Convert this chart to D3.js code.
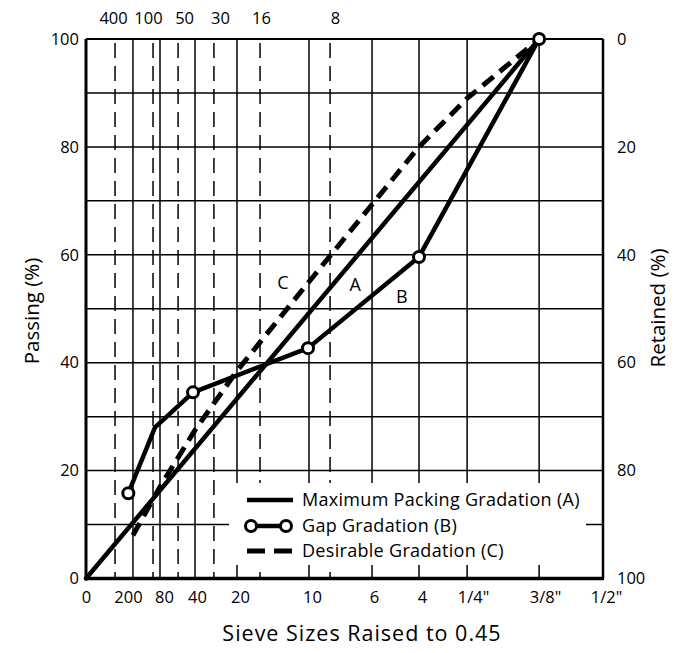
<!DOCTYPE html>
<html>
<head>
<meta charset="utf-8">
<script src="https://cdn.jsdelivr.net/npm/d3@7"></script>
<style>
  body { margin: 0; background: #fff; }
  svg { display: block; font-family: "Open Sans", sans-serif; }
</style>
</head>
<body>
<svg id="chart" width="683" height="653"></svg>
<script>
// Sieve positions, in (sieve size)^0.45 units
const bottomLabels = ['0', '200', '80', '40', '20', '10', '6', '4', '1/4"', '3/8"', '1/2"'];
const bottomPos    = [0, 0.283, 0.446, 0.657, 0.910, 1.344, 1.724, 2.007, 2.297, 2.731, 3.116];
const topLabels    = ['400', '100', '50', '30', '16', '8'];
const topPos       = [0.175, 0.404, 0.555, 0.771, 1.049, 1.471];

const passTicks = [0, 20, 40, 60, 80, 100];
const gridPass  = [10, 20, 30, 40, 50, 60, 70, 80, 90];

// Gradation curves: [position, % passing]
const gradA = [[0, 0], [2.731, 100]];
const gradB = [[0.255, 15.8], [0.416, 28], [0.645, 34.5], [1.338, 42.7], [2.007, 59.6], [2.731, 100]];
const gradBCircles = [true, false, true, true, true, true];
const gradC = [[0.283, 8], [0.446, 17], [0.657, 27.5], [0.910, 38.5], [1.344, 55], [2.007, 80], [2.297, 89], [2.731, 100]];

const curveLabels = [
    { text: 'C', u: 1.187, p: 54.9 },
    { text: 'A', u: 1.622, p: 54.5 },
    { text: 'B', u: 1.903, p: 52.3 }
];
const legendItems = ['Maximum Packing Gradation (A)', 'Gap Gradation (B)', 'Desirable Gradation (C)'];

// ── layout ───────────────────────────────────────────────────────────────────
const L = 86, R = 603, T = 39, B = 578.5;
const FONT = '"Open Sans", sans-serif';
// the printed labels sit a little off their lines in the original
const bottomNudge = [0, -5, 4, 2, 3, 3, 2, 3, 6, 6, 3];
const topNudge    = [-2, -5, 6, 6, 1, 5];

const svg = d3.select('#chart');

const x = d3.scaleLinear().domain([0, 3.116]).range([L, R]);
const y = d3.scaleLinear().domain([0, 100]).range([B, T]);
const yRet = d3.scaleLinear().domain([100, 0]).range([B, T]);

// ── grid ─────────────────────────────────────────────────────────────────────
const grid = svg.append('g').attr('stroke', '#000').attr('stroke-width', 1.5);

grid.selectAll('.gy').data(gridPass).join('line')
    .attr('x1', L).attr('x2', R)
    .attr('y1', d => y(d)).attr('y2', d => y(d));

grid.selectAll('.gx').data(bottomPos.slice(1, -1)).join('line')
    .attr('x1', d => x(d)).attr('x2', d => x(d))
    .attr('y1', T).attr('y2', B);

grid.selectAll('.gxd').data(topPos).join('line')
    .attr('x1', d => x(d)).attr('x2', d => x(d))
    .attr('y1', T).attr('y2', B)
    .attr('stroke-dasharray', '15,8')
    .attr('stroke-dashoffset', -4);

// legend box hides the grid behind it
svg.append('rect')
    .attr('x', 229).attr('y', 483).attr('width', 357).attr('height', 82)
    .attr('fill', '#fff');

// ── frame ────────────────────────────────────────────────────────────────────
const frame = svg.append('g').attr('stroke', '#000').attr('fill', 'none');
frame.append('line').attr('x1', L).attr('x2', R).attr('y1', T).attr('y2', T).attr('stroke-width', 2.2);
frame.append('line').attr('x1', R).attr('x2', R).attr('y1', T).attr('y2', B).attr('stroke-width', 2.5);
frame.append('line').attr('x1', L).attr('x2', L).attr('y1', T).attr('y2', B + 1.5).attr('stroke-width', 3);
frame.append('line').attr('x1', L).attr('x2', R + 1).attr('y1', B).attr('y2', B).attr('stroke-width', 3.5);

// ── axes (labels only) ───────────────────────────────────────────────────────
const fontSize = 16.5;

function styleLabels(g) {
    g.select('.domain').remove();
    g.selectAll('text').attr('font-size', fontSize).attr('fill', '#000').attr('font-family', FONT);
}

const xAxis = d3.axisBottom(x)
    .tickValues(bottomPos)
    .tickFormat((d, i) => bottomLabels[i])
    .tickSize(0).tickPadding(13);
svg.append('g').attr('transform', `translate(0,${B})`).call(xAxis).call(styleLabels)
    .selectAll('text').attr('dx', (d, i) => bottomNudge[i]);

const topAxis = d3.axisTop(x)
    .tickValues(topPos)
    .tickFormat((d, i) => topLabels[i])
    .tickSize(0).tickPadding(15);
svg.append('g').attr('transform', `translate(0,${T})`).call(topAxis).call(styleLabels)
    .selectAll('text').attr('dx', (d, i) => topNudge[i]);

const yAxis = d3.axisLeft(y).tickValues(passTicks).tickSize(0).tickPadding(7);
svg.append('g').attr('transform', `translate(${L},0)`).call(yAxis).call(styleLabels);

const yAxisR = d3.axisRight(yRet).tickValues(passTicks).tickSize(0).tickPadding(14);
svg.append('g').attr('transform', `translate(${R},0)`).call(yAxisR).call(styleLabels);

// axis titles
svg.append('text')
    .attr('x', 362).attr('y', 641)
    .attr('text-anchor', 'middle').attr('font-size', 21.5)
    .attr('letter-spacing', 1)
    .text('Sieve Sizes Raised to 0.45');

svg.append('text')
    .attr('transform', 'translate(39,311) rotate(-90)')
    .attr('text-anchor', 'middle').attr('font-size', 20.5)
    .text('Passing (%)');

svg.append('text')
    .attr('transform', 'translate(665,308) rotate(-90)')
    .attr('text-anchor', 'middle').attr('font-size', 20.5)
    .text('Retained (%)');

// ── curves ───────────────────────────────────────────────────────────────────
const line = d3.line().x(d => x(d[0])).y(d => y(d[1]));

svg.append('path').datum(gradC)
    .attr('d', line).attr('fill', 'none').attr('stroke', '#000')
    .attr('stroke-width', 5).attr('stroke-dasharray', '14,8');

svg.append('path').datum(gradA)
    .attr('d', line).attr('fill', 'none').attr('stroke', '#000')
    .attr('stroke-width', 4.5).attr('stroke-linecap', 'round');

svg.append('path').datum(gradB)
    .attr('d', line).attr('fill', 'none').attr('stroke', '#000')
    .attr('stroke-width', 4.5).attr('stroke-linejoin', 'round');

svg.append('g').selectAll('circle')
    .data(gradB.filter((d, i) => gradBCircles[i]))
    .join('circle')
    .attr('cx', d => x(d[0])).attr('cy', d => y(d[1]))
    .attr('r', 5.5).attr('fill', '#fff').attr('stroke', '#000').attr('stroke-width', 3);

svg.append('g').selectAll('text')
    .data(curveLabels).join('text')
    .attr('x', d => x(d.u)).attr('y', d => y(d.p))
    .attr('dy', '0.35em').attr('text-anchor', 'middle')
    .attr('font-size', 18)
    .text(d => d.text);

// ── legend ───────────────────────────────────────────────────────────────────
const legY = [500, 526, 551];
const leg = svg.append('g');
legendItems.forEach((label, i) => {
    const g = leg.append('g').attr('transform', `translate(0,${legY[i]})`);
    if (i === 0) {
        g.append('line').attr('x1', 247).attr('x2', 293)
            .attr('stroke', '#000').attr('stroke-width', 4.5);
    } else if (i === 1) {
        g.append('line').attr('x1', 251).attr('x2', 286)
            .attr('stroke', '#000').attr('stroke-width', 4.5);
        [251, 286].forEach(cx => g.append('circle')
            .attr('cx', cx).attr('r', 5.5)
            .attr('fill', '#fff').attr('stroke', '#000').attr('stroke-width', 3));
    } else {
        g.append('line').attr('x1', 247).attr('x2', 293)
            .attr('stroke', '#000').attr('stroke-width', 5)
            .attr('stroke-dasharray', '18,9');
    }
    g.append('text').attr('x', 302).attr('dy', '0.35em')
        .attr('font-size', 18).attr('letter-spacing', 0.3).text(label);
});
</script>
</body>
</html>
